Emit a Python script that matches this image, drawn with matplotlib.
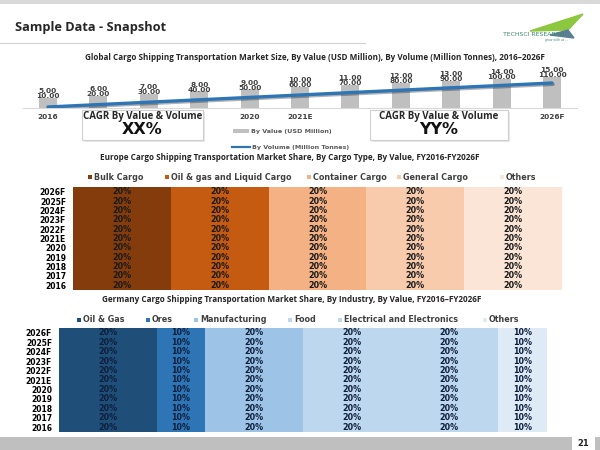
import numpy as np
import matplotlib
matplotlib.use("Agg")
import matplotlib.pyplot as plt
import matplotlib.patheffects as pe
from matplotlib.patches import Rectangle, Polygon
from matplotlib.lines import Line2D

# ---- data ----
years = ["2016", "2017", "2018", "2019", "2020", "2021E",
         "2022F", "2023F", "2024F", "2025F", "2026F"]
shown_years = ["2016", "2020", "2021E", "2026F"]
value_usd = [5, 6, 7, 8, 9, 10, 11, 12, 13, 14, 15]
volume_mt = [10, 20, 30, 40, 50, 60, 70, 80, 90, 100, 110]

europe_types = ["Bulk Cargo", "Oil & gas and Liquid Cargo", "Container Cargo",
                "General Cargo", "Others"]
# one row per year (2016 ... 2026F), one column per cargo type
europe_share = [
    [20, 20, 20, 20, 20],
    [20, 20, 20, 20, 20],
    [20, 20, 20, 20, 20],
    [20, 20, 20, 20, 20],
    [20, 20, 20, 20, 20],
    [20, 20, 20, 20, 20],
    [20, 20, 20, 20, 20],
    [20, 20, 20, 20, 20],
    [20, 20, 20, 20, 20],
    [20, 20, 20, 20, 20],
    [20, 20, 20, 20, 20],
]
europe_colors = ["#843c0c", "#c55a11", "#f4b183", "#f8cbad", "#fbe5d6"]

germany_inds = ["Oil & Gas", "Ores", "Manufacturing", "Food",
                "Electrical and Electronics", "Others"]
germany_share = [
    [20, 10, 20, 20, 20, 10],
    [20, 10, 20, 20, 20, 10],
    [20, 10, 20, 20, 20, 10],
    [20, 10, 20, 20, 20, 10],
    [20, 10, 20, 20, 20, 10],
    [20, 10, 20, 20, 20, 10],
    [20, 10, 20, 20, 20, 10],
    [20, 10, 20, 20, 20, 10],
    [20, 10, 20, 20, 20, 10],
    [20, 10, 20, 20, 20, 10],
    [20, 10, 20, 20, 20, 10],
]
germany_colors = ["#1f4e79", "#2e75b6", "#9dc3e6", "#bdd7ee", "#bdd7ee", "#deebf7"]

# ---- figure in pixel coords ----
W, H = 600, 450
fig = plt.figure(figsize=(6, 4.5), dpi=100)


def fx(x):
    return x / W


def fy(y):
    return 1 - y / H


def px_axes(x0, y0, x1, y1):
    return fig.add_axes([fx(x0), fy(y1), (x1 - x0) / W, (y1 - y0) / H])


def px_rect(x0, y0, x1, y1, **kw):
    r = Rectangle((fx(x0), fy(y1)), (x1 - x0) / W, (y1 - y0) / H,
                  transform=fig.transFigure, **kw)
    fig.add_artist(r)
    return r


def px_text(x, y, s, **kw):
    return fig.text(fx(x), fy(y), s, **kw)


TITLE_FONT = ["Open Sans", "DejaVu Sans"]
BOLD_FONT = ["DejaVu Sans"]

# page furniture
px_rect(0, 0, 600, 4, color="#d9d9d9", lw=0)
px_text(15, 27, "Sample Data - Snapshot", family=TITLE_FONT, weight="bold",
        fontsize=9.2, va="center", color="#262626")
fig.add_artist(Line2D([fx(0), fx(365)], [fy(43), fy(43)], color="#d0d0d0", lw=0.8,
                      transform=fig.transFigure))
# logo
fig.add_artist(Polygon([(fx(530), fy(31)), (fx(583), fy(14)), (fx(568), fy(30))],
                       closed=True, color="#8dc63f", transform=fig.transFigure))
fig.add_artist(Polygon([(fx(550), fy(35)), (fx(568), fy(30)), (fx(574), fy(38))],
                       closed=True, color="#5b7f95", transform=fig.transFigure))
px_text(503, 34, "TECHSCI RESEARCH", fontsize=4.4, color="#3d8a6e", va="center",
        family=BOLD_FONT)
px_text(545, 39.5, "grow with us ...", fontsize=2.2, color="#3d8a6e", va="center",
        style="italic")

px_rect(0, 437, 572, 450, color="#bfbfbf", lw=0)
px_rect(595, 437, 600, 450, color="#bfbfbf", lw=0)
px_text(583, 443, "21", fontsize=6, weight="bold", family=BOLD_FONT,
        ha="center", va="center", color="#262626")

# ---- chart 1: global market size ----
px_text(315, 57, "Global Cargo Shipping Transportation Market Size, By Value (USD Million), "
        "By Volume (Million Tonnes), 2016\u20132026F", family=TITLE_FONT,
        weight="bold", fontsize=5.9, ha="center", va="center", color="#262626")

ax1 = px_axes(22.8, 62, 577.2, 108)
x = np.arange(len(years))
bars = ax1.bar(x, value_usd, width=0.36, color="#bfbfbf", zorder=2)
ax1.set_xlim(-0.5, len(years) - 0.5)
ax1.set_ylim(0, 22.3)
for s in ["top", "left", "right"]:
    ax1.spines[s].set_visible(False)
ax1.spines["bottom"].set_color("#d9d9d9")
ax1.set_yticks([])
ax1.set_xticks(x, [y if y in shown_years else "" for y in years])
ax1.tick_params(axis="x", length=0, pad=4.5, labelsize=5.3, labelcolor="#404040")
for t in ax1.get_xticklabels():
    t.set_fontweight("bold")
ax1.patch.set_alpha(0)

ax1b = ax1.twinx()
ax1b.plot(x, volume_mt, color="#2e75b6", lw=2.4, solid_capstyle="round",
          path_effects=[pe.SimpleLineShadow(offset=(0.8, -1.0), alpha=0.3), pe.Normal()])
ax1b.set_ylim(5.8, 197.5)
ax1b.axis("off")

for i, (v, m) in enumerate(zip(value_usd, volume_mt)):
    ax1b.annotate(f"{v:.2f}\n{m:.2f}", xy=(i, v), xycoords=ax1.transData,
                  xytext=(0, -0.8), textcoords="offset points", ha="center", va="bottom",
                  fontsize=5.3, weight="bold", linespacing=0.8, color="#404040",
                  family=BOLD_FONT)

# CAGR boxes
for (x0, x1, big) in [(82, 203, "XX%"), (370, 508, "YY%")]:
    px_rect(x0 + 1.5, 111.5, x1 + 1.5, 141.5, color="#e6e6e6", lw=0, zorder=9)
    px_rect(x0, 110, x1, 140, facecolor="white", edgecolor="#d0d0d0", lw=0.8, zorder=10)
    cx = (x0 + x1) / 2
    px_text(cx, 117, "CAGR By Value & Volume", family=TITLE_FONT, weight="bold",
            fontsize=7, ha="center", va="center", color="#262626", zorder=11)
    px_text(cx, 130, big, family=BOLD_FONT, weight="bold", fontsize=11.5,
            ha="center", va="center", color="#111111", zorder=11)

# chart 1 legend
px_rect(233, 129, 249, 132.5, color="#bfbfbf", lw=0)
px_text(251, 131, "By Value (USD Million)", fontsize=4.6, weight="bold",
        family=BOLD_FONT, color="#595959", va="center")
fig.add_artist(Line2D([fx(232), fx(250)], [fy(147), fy(147)], color="#2e75b6", lw=1.6,
                      transform=fig.transFigure))
px_text(252, 147, "By Volume (Million Tonnes)", fontsize=4.6, weight="bold",
        family=BOLD_FONT, color="#595959", va="center")


# ---- stacked share charts ----
def share_chart(rect, data, colors, label_color):
    ax = px_axes(*rect)
    arr = np.array(data)
    left = np.zeros(len(years))
    for j in range(arr.shape[1]):
        cont = ax.barh(x, arr[:, j], left=left, height=1.0, color=colors[j], lw=0)
        ax.bar_label(cont, labels=[f"{v}%" for v in arr[:, j]], label_type="center",
                     fontsize=5.8, weight="bold", color=label_color, family=BOLD_FONT)
        left += arr[:, j]
    ax.set_xlim(0, 100)
    ax.set_ylim(-0.5, len(years) - 0.5)
    ax.set_xticks([])
    ax.set_yticks(x, years)
    ax.tick_params(axis="y", length=0, pad=5, labelsize=5.5)
    for t in ax.get_yticklabels():
        t.set_fontweight("bold")
        t.set_family(BOLD_FONT)
    for s in ax.spines.values():
        s.set_visible(False)
    return ax


def legend_row(names, colors, marker_x, y):
    for name, c, mx in zip(names, colors, marker_x):
        px_rect(mx - 2, y - 2, mx + 2, y + 2, color=c, lw=0)
        px_text(mx + 4, y, name, fontsize=5.8, weight="bold", family=BOLD_FONT,
                color="#404040", va="center")


px_text(290, 157, "Europe Cargo Shipping Transportation Market Share, By Cargo Type, "
        "By Value, FY2016-FY2026F", family=TITLE_FONT, weight="bold",
        fontsize=5.9, ha="center", va="center", color="#262626")
legend_row(europe_types, europe_colors, [90, 167, 309, 399, 502], 177)
share_chart((73, 187, 562, 290), europe_share, europe_colors, "#1a1a1a")

px_text(292, 300, "Germany Cargo Shipping Transportation Market Share, By Industry, "
        "By Value, FY2016\u2013FY2026F", family=TITLE_FONT, weight="bold",
        fontsize=5.9, ha="center", va="center", color="#262626")
legend_row(germany_inds, germany_colors, [79, 148, 196, 290, 340, 485], 320)
share_chart((59, 328, 547, 432), germany_share, germany_colors, "#0d1f3c")

fig.savefig("out.png", dpi=100)
